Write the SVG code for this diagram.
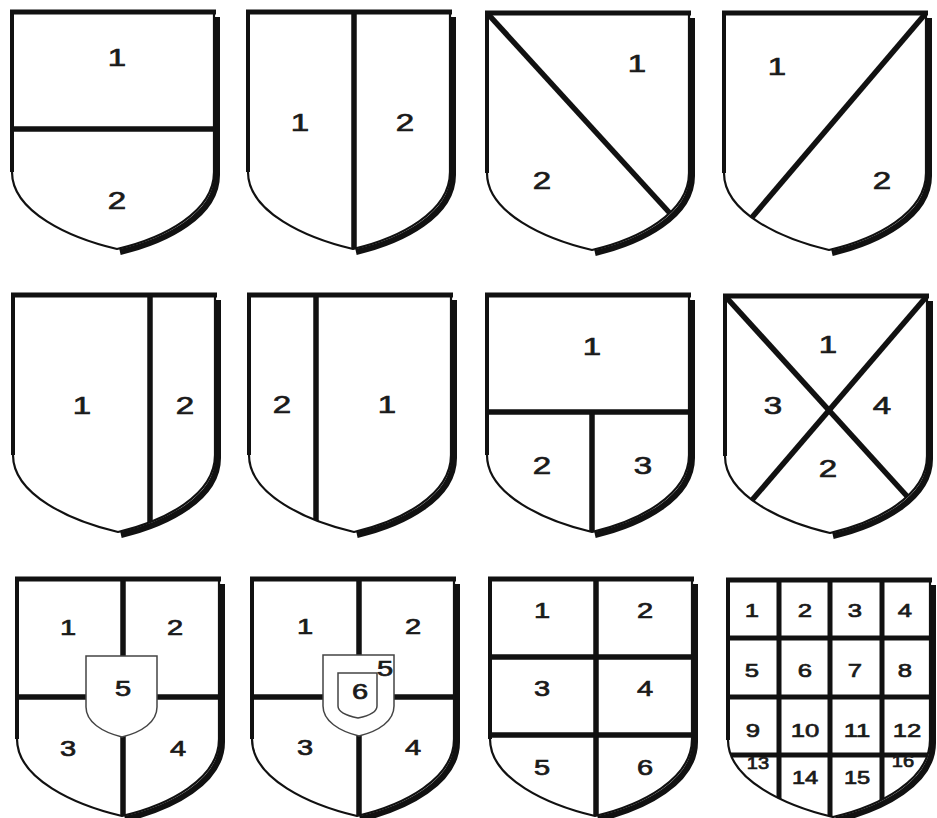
<svg xmlns="http://www.w3.org/2000/svg" xmlns:xlink="http://www.w3.org/1999/xlink" width="937" height="818" viewBox="0 0 937 818">
<style>
.body{fill:#fff;stroke:none}
.out{fill:none;stroke:#111;stroke-width:2.2;stroke-linejoin:round}
.sd{fill:none;stroke:#111;stroke-width:6}
.dv{fill:none;stroke:#111;stroke-width:5.5}
.dv4{fill:none;stroke:#111;stroke-width:5}
.tp{stroke:#111;stroke-width:5}
.lf{stroke:#111;stroke-width:4}
.inner{fill:#fff;stroke:#444;stroke-width:1.5}
text{font-family:"Liberation Sans",Arial,sans-serif;fill:#1a1a1a;stroke:#1a1a1a;stroke-width:0.7;text-anchor:middle}
.t24{font-size:24.5px}
.t21{font-size:21.5px}
.t19{font-size:19px}
.t17{font-size:17.5px}
.t16{font-size:16px}
</style>
<defs>
<path id="sh" d="M0,0 H202 V160 C202,200 152,226 105,237 C58,226 0,200 0,160 Z"/>
<path id="shadow" d="M202,2 V160 C202,200 152,226 105,237"/>
<clipPath id="cl" clipPathUnits="userSpaceOnUse"><use xlink:href="#sh" href="#sh"/></clipPath>
<path id="in5" d="M0,0 H71 V51 C71,66 56,76 36,81 C16,76 0,66 0,51 Z"/>
<path id="in6" d="M0,0 H39 V33 C39,39 30,43 20,45 C10,43 0,39 0,33 Z"/>
</defs>

<g id="shield-1">
<g transform="translate(12,12)">
<use href="#shadow" class="sd" transform="translate(3,3)"/>
<use href="#sh" class="body"/>
<g clip-path="url(#cl)"><line class="dv" x1="-5" y1="117" x2="210" y2="117"/></g>
<use href="#sh" class="out"/>
<line class="tp" x1="-2" y1="0" x2="204" y2="0"/><line class="lf" x1="0" y1="-2" x2="0" y2="160"/>
</g>
<text class="t24" transform="translate(117,65.8) scale(1.35,1)">1</text>
<text class="t24" transform="translate(117,208.8) scale(1.35,1)">2</text>
</g>

<g id="shield-2">
<g transform="translate(248,12)">
<use href="#shadow" class="sd" transform="translate(3,3)"/>
<use href="#sh" class="body"/>
<g clip-path="url(#cl)"><line class="dv" x1="106" y1="-5" x2="106" y2="240"/></g>
<use href="#sh" class="out"/>
<line class="tp" x1="-2" y1="0" x2="204" y2="0"/><line class="lf" x1="0" y1="-2" x2="0" y2="160"/>
</g>
<text class="t24" transform="translate(300,130.8) scale(1.35,1)">1</text>
<text class="t24" transform="translate(405,130.8) scale(1.35,1)">2</text>
</g>

<g id="shield-3">
<g transform="translate(487,13)">
<use href="#shadow" class="sd" transform="translate(3,3)"/>
<use href="#sh" class="body"/>
<g clip-path="url(#cl)"><line class="dv" x1="-3" y1="-3.3" x2="190" y2="208"/></g>
<use href="#sh" class="out"/>
<line class="tp" x1="-2" y1="0" x2="204" y2="0"/><line class="lf" x1="0" y1="-2" x2="0" y2="160"/>
</g>
<text class="t24" transform="translate(637,71.8) scale(1.35,1)">1</text>
<text class="t24" transform="translate(542,188.8) scale(1.35,1)">2</text>
</g>

<g id="shield-4">
<g transform="translate(724,13)">
<use href="#shadow" class="sd" transform="translate(3,3)"/>
<use href="#sh" class="body"/>
<g clip-path="url(#cl)"><line class="dv" x1="205" y1="-3.5" x2="20" y2="213.7"/></g>
<use href="#sh" class="out"/>
<line class="tp" x1="-2" y1="0" x2="204" y2="0"/><line class="lf" x1="0" y1="-2" x2="0" y2="160"/>
</g>
<text class="t24" transform="translate(777,74.8) scale(1.35,1)">1</text>
<text class="t24" transform="translate(882,188.8) scale(1.35,1)">2</text>
</g>

<g id="shield-5">
<g transform="translate(13,295)">
<use href="#shadow" class="sd" transform="translate(3,3)"/>
<use href="#sh" class="body"/>
<g clip-path="url(#cl)"><line class="dv" x1="137" y1="-5" x2="137" y2="240"/></g>
<use href="#sh" class="out"/>
<line class="tp" x1="-2" y1="0" x2="204" y2="0"/><line class="lf" x1="0" y1="-2" x2="0" y2="160"/>
</g>
<text class="t24" transform="translate(82,413.8) scale(1.35,1)">1</text>
<text class="t24" transform="translate(185,413.8) scale(1.35,1)">2</text>
</g>

<g id="shield-6">
<g transform="translate(249,295)">
<use href="#shadow" class="sd" transform="translate(3,3)"/>
<use href="#sh" class="body"/>
<g clip-path="url(#cl)"><line class="dv" x1="67" y1="-5" x2="67" y2="240"/></g>
<use href="#sh" class="out"/>
<line class="tp" x1="-2" y1="0" x2="204" y2="0"/><line class="lf" x1="0" y1="-2" x2="0" y2="160"/>
</g>
<text class="t24" transform="translate(282,412.8) scale(1.35,1)">2</text>
<text class="t24" transform="translate(387,412.8) scale(1.35,1)">1</text>
</g>

<g id="shield-7">
<g transform="translate(487,295)">
<use href="#shadow" class="sd" transform="translate(3,3)"/>
<use href="#sh" class="body"/>
<g clip-path="url(#cl)"><line class="dv" x1="-5" y1="117" x2="210" y2="117"/><line class="dv" x1="105" y1="117" x2="105" y2="240"/></g>
<use href="#sh" class="out"/>
<line class="tp" x1="-2" y1="0" x2="204" y2="0"/><line class="lf" x1="0" y1="-2" x2="0" y2="160"/>
</g>
<text class="t24" transform="translate(592,354.8) scale(1.35,1)">1</text>
<text class="t24" transform="translate(542,473.8) scale(1.35,1)">2</text>
<text class="t24" transform="translate(643,473.8) scale(1.35,1)">3</text>
</g>

<g id="shield-8">
<g transform="translate(725,296)">
<use href="#shadow" class="sd" transform="translate(3,3)"/>
<use href="#sh" class="body"/>
<g clip-path="url(#cl)"><line class="dv" x1="-3" y1="-3.3" x2="190" y2="209"/><line class="dv" x1="205" y1="-3.5" x2="20" y2="212.3"/></g>
<use href="#sh" class="out"/>
<line class="tp" x1="-2" y1="0" x2="204" y2="0"/><line class="lf" x1="0" y1="-2" x2="0" y2="160"/>
</g>
<text class="t24" transform="translate(828,352.8) scale(1.35,1)">1</text>
<text class="t24" transform="translate(773,413.8) scale(1.35,1)">3</text>
<text class="t24" transform="translate(882,413.8) scale(1.35,1)">4</text>
<text class="t24" transform="translate(828,476.8) scale(1.35,1)">2</text>
</g>

<g id="shield-9">
<g transform="translate(17,579)">
<use href="#shadow" class="sd" transform="translate(3,3)"/>
<use href="#sh" class="body"/>
<g clip-path="url(#cl)"><line class="dv" x1="-5" y1="118" x2="210" y2="118"/><line class="dv" x1="106" y1="-5" x2="106" y2="240"/></g>
<use href="#sh" class="out"/>
<line class="tp" x1="-2" y1="0" x2="204" y2="0"/><line class="lf" x1="0" y1="-2" x2="0" y2="160"/>
<use href="#in5" class="inner" transform="translate(69,77)"/>
</g>
<text class="t21" transform="translate(68,634.7) scale(1.35,1)">1</text>
<text class="t21" transform="translate(175,634.7) scale(1.35,1)">2</text>
<text class="t21" transform="translate(123,695.7) scale(1.35,1)">5</text>
<text class="t21" transform="translate(68,755.7) scale(1.35,1)">3</text>
<text class="t21" transform="translate(178,755.7) scale(1.35,1)">4</text>
</g>

<g id="shield-10">
<g transform="translate(252,579)">
<use href="#shadow" class="sd" transform="translate(3,3)"/>
<use href="#sh" class="body"/>
<g clip-path="url(#cl)"><line class="dv" x1="-5" y1="118" x2="210" y2="118"/><line class="dv" x1="107" y1="-5" x2="107" y2="240"/></g>
<use href="#sh" class="out"/>
<line class="tp" x1="-2" y1="0" x2="204" y2="0"/><line class="lf" x1="0" y1="-2" x2="0" y2="160"/>
<use href="#in5" class="inner" transform="translate(71,76)"/>
<use href="#in6" class="inner" transform="translate(86,94)"/>
</g>
<text class="t21" transform="translate(305,633.7) scale(1.35,1)">1</text>
<text class="t21" transform="translate(413,633.7) scale(1.35,1)">2</text>
<text class="t21" transform="translate(385,675.7) scale(1.35,1)">5</text>
<text class="t21" transform="translate(360,698.7) scale(1.35,1)">6</text>
<text class="t21" transform="translate(305,754.7) scale(1.35,1)">3</text>
<text class="t21" transform="translate(413,754.7) scale(1.35,1)">4</text>
</g>

<g id="shield-11">
<g transform="translate(490,579)">
<use href="#shadow" class="sd" transform="translate(3,3)"/>
<use href="#sh" class="body"/>
<g clip-path="url(#cl)"><line class="dv" x1="-5" y1="78" x2="210" y2="78"/><line class="dv" x1="-5" y1="156" x2="210" y2="156"/><line class="dv" x1="106" y1="-5" x2="106" y2="240"/></g>
<use href="#sh" class="out"/>
<line class="tp" x1="-2" y1="0" x2="204" y2="0"/><line class="lf" x1="0" y1="-2" x2="0" y2="160"/>
</g>
<text class="t21" transform="translate(542,617.7) scale(1.35,1)">1</text>
<text class="t21" transform="translate(645,617.7) scale(1.35,1)">2</text>
<text class="t21" transform="translate(542,695.7) scale(1.35,1)">3</text>
<text class="t21" transform="translate(645,695.7) scale(1.35,1)">4</text>
<text class="t21" transform="translate(542,774.7) scale(1.35,1)">5</text>
<text class="t21" transform="translate(645,774.7) scale(1.35,1)">6</text>
</g>

<g id="shield-12">
<g transform="translate(728,580)">
<use href="#shadow" class="sd" transform="translate(3,3)"/>
<use href="#sh" class="body"/>
<g clip-path="url(#cl)"><line class="dv4" x1="-5" y1="58" x2="210" y2="58"/><line class="dv4" x1="-5" y1="117" x2="210" y2="117"/><line class="dv4" x1="-5" y1="175" x2="210" y2="175"/><line class="dv4" x1="51" y1="-5" x2="51" y2="240"/><line class="dv4" x1="102" y1="-5" x2="102" y2="240"/><line class="dv4" x1="154" y1="-5" x2="154" y2="240"/></g>
<use href="#sh" class="out"/>
<line class="tp" x1="-2" y1="0" x2="204" y2="0"/><line class="lf" x1="0" y1="-2" x2="0" y2="160"/>
</g>
<text class="t19" transform="translate(752,616.8) scale(1.35,1)">1</text>
<text class="t19" transform="translate(805,616.8) scale(1.35,1)">2</text>
<text class="t19" transform="translate(855,616.8) scale(1.35,1)">3</text>
<text class="t19" transform="translate(905,616.8) scale(1.35,1)">4</text>
<text class="t19" transform="translate(752,676.8) scale(1.35,1)">5</text>
<text class="t19" transform="translate(805,676.8) scale(1.35,1)">6</text>
<text class="t19" transform="translate(855,676.8) scale(1.35,1)">7</text>
<text class="t19" transform="translate(905,676.8) scale(1.35,1)">8</text>
<text class="t19" transform="translate(753,736.8) scale(1.35,1)">9</text>
<text class="t19" transform="translate(805,736.8) scale(1.35,1)">10</text>
<text class="t19" transform="translate(857,736.8) scale(1.35,1)">11</text>
<text class="t19" transform="translate(907,736.8) scale(1.35,1)">12</text>
<text class="t16" transform="translate(758,769) scale(1.25,1)">13</text>
<text class="t17" transform="translate(805,784.3) scale(1.35,1)">14</text>
<text class="t17" transform="translate(857,784.3) scale(1.35,1)">15</text>
<text class="t16" transform="translate(903,767) scale(1.25,1)">16</text>
</g>
</svg>
